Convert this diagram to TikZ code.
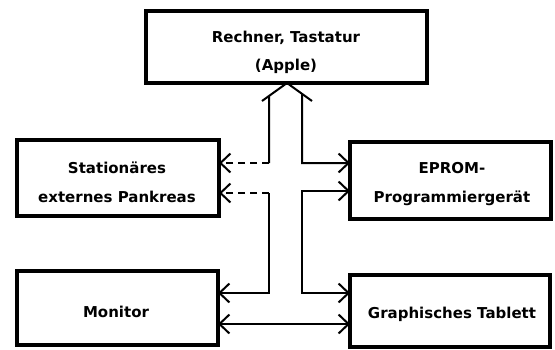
\documentclass[tikz,border=0pt]{standalone}
\usepackage{fontspec}
\setmainfont{DejaVu Sans}
\usetikzlibrary{arrows.meta,calc}
\begin{document}
\begin{tikzpicture}[x=1pt,y=-1pt,
  box/.style={draw, line width=3.2pt, inner sep=0pt, outer sep=0pt},
  lbl/.style={font=\bfseries\fontsize{15}{29}\selectfont, align=center, inner sep=0pt},
  conn/.style={line width=2pt, line join=miter},
  barb/.style={-{Straight Barb[length=10pt,width=19pt,line width=2pt]}},
  dbarb/.style={{Straight Barb[length=10pt,width=19pt,line width=2pt]}-{Straight Barb[length=10pt,width=19pt,line width=2pt]}},
  dashline/.style={dash pattern=on 7pt off 5pt}]
\useasboundingbox (0,0) rectangle (555,349);
% boxes
\node[box, minimum width=281pt, minimum height=72pt] (top) at (286.5,47) {};
\node[box, minimum width=202pt, minimum height=76pt] (stat) at (118,178) {};
\node[box, minimum width=201pt, minimum height=77pt] (ep) at (450.5,180.5) {};
\node[box, minimum width=201pt, minimum height=74pt] (mon) at (117.5,308) {};
\node[box, minimum width=200pt, minimum height=72pt] (gr) at (450,311) {};
% labels
\node[lbl, font=\bfseries\fontsize{15}{28}\selectfont] (ttop) at (286,52) {Rechner, Tastatur\\(Apple)};
\node[lbl] (tstat) at (117,182) {Stationäres\\externes Pankreas};
\node[lbl] (tep) at (452,184) {EPROM-\\Programmiergerät};
\node[lbl] (tmon) at (116,312) {Monitor};
\node[lbl] (tgr) at (452,314) {Graphisches Tablett};
% top chevron
\coordinate (apex) at (top.south -| 287,0);
\coordinate (wl) at (262,101);
\coordinate (wr) at (312,101);
\draw[conn] (wl) -- (apex) -- (wr);
\coordinate (aL) at ($(apex)!{18/25}!(wl)$);
\coordinate (aR) at ($(apex)!{15/25}!(wr)$);
% trunk corners
\coordinate (L1) at (269,163);
\coordinate (L2) at (269,193);
\coordinate (L3) at (269,293);
\coordinate (R1) at (302,163);
\coordinate (R2) at (302,191);
\coordinate (R3) at (302,293);
\coordinate (B) at (285,324);
% left side
\draw[conn] (aL) -- (L1);
\draw[conn, dashline, barb] (L1) -- (L1 -| stat.east);
\draw[conn, dashline, barb] (L2) -- (L2 -| stat.east);
\draw[conn, barb] (L2) -- (L3) -- (L3 -| mon.east);
% right side
\draw[conn, barb] (aR) -- (R1) -- (R1 -| ep.west);
\draw[conn, dbarb] (R2 -| ep.west) -- (R2) -- (R3) -- (R3 -| gr.west);
% bottom
\draw[conn, dbarb] (B -| mon.east) -- (B -| gr.west);
\end{tikzpicture}
\end{document}
